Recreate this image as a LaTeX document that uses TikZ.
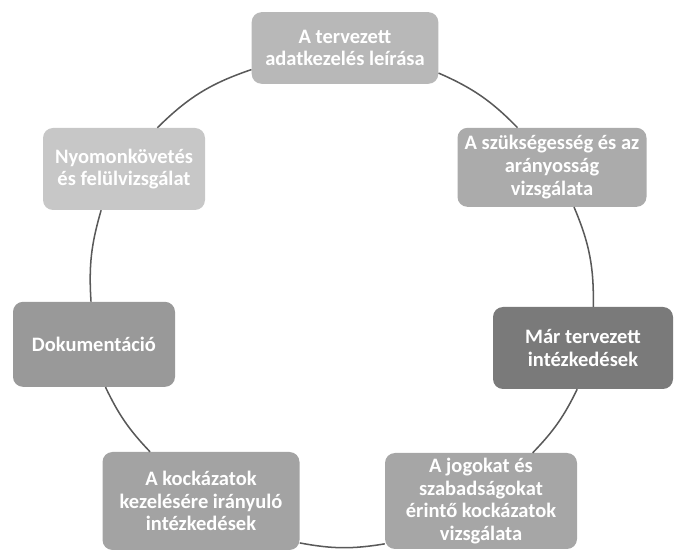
\documentclass[tikz,border=0pt]{standalone}
\usepackage{fontspec}
\setmainfont{Carlito}
\begin{document}
\begin{tikzpicture}[
	stepbox/.style={rounded corners=0.3cm, align=center, text=white,
		font=\fontsize{17.5}{19.5}\selectfont\bfseries, inner sep=2pt},
	cyclearc/.style={draw=black!65, line width=1.3pt}]
	\useasboundingbox (0,0) rectangle (20.28,16.59);
	% boxes round the cycle
	\node[stepbox, fill=black!28, minimum width=5.6cm, minimum height=2.15cm] (leiras) at (10.35,15.15) {A tervezett\\adatkezelés leírása};
	\node[stepbox, fill=black!33, minimum width=5.67cm, minimum height=2.37cm] (szukseges) at (16.56,11.57) {A szükségesség és az\\arányosság\\vizsgálata};
	\node[stepbox, fill=black!52, minimum width=5.4cm, minimum height=2.46cm] (intezkedes) at (17.49,6.15) {Már tervezett\\intézkedések};
	\node[stepbox, fill=black!35, minimum width=5.76cm, minimum height=2.88cm] (jogok) at (14.43,1.56) {A jogokat és\\szabadságokat\\érintő kockázatok\\vizsgálata};
	\node[stepbox, fill=black!36, minimum width=5.91cm, minimum height=2.94cm] (kezeles) at (6.03,1.56) {A kockázatok\\kezelésére irányuló\\intézkedések};
	\node[stepbox, fill=black!40, minimum width=4.86cm, minimum height=2.55cm] (dok) at (2.82,6.26) {Dokumentáció};
	\node[stepbox, fill=black!22, minimum width=4.86cm, minimum height=2.46cm] (nyomon) at (3.72,11.52) {Nyomonkövetés\\és felülvizsgálat};
	% arcs
	\draw[cyclearc] (leiras.-15) to [bend left=11] (szukseges.131);
	\draw[cyclearc] (szukseges.-61) to [bend left=12] (intezkedes.76);
	\draw[cyclearc] (intezkedes.-98) to [bend left=9] (jogok.43);
	\draw[cyclearc] (jogok.-156) to [bend left=10] (kezeles.-23);
	\draw[cyclearc] (kezeles.136) to [bend left=9] (dok.-75);
	\draw[cyclearc] (dok.94) to [bend left=10] (nyomon.-119);
	\draw[cyclearc] (nyomon.51) to [bend left=13] (leiras.-167);
\end{tikzpicture}
\end{document}
